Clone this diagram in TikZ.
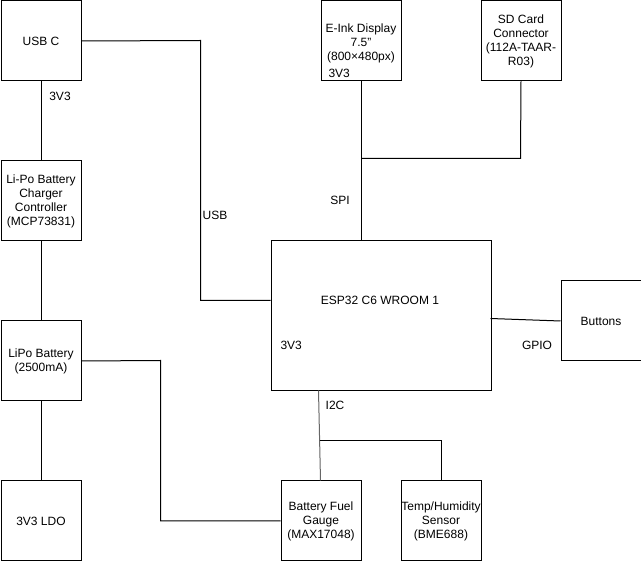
\documentclass[tikz,border=0pt]{standalone}
\usepackage{fontspec}
\setmainfont{Liberation Sans}
\begin{document}
\begin{tikzpicture}[x=1pt,y=-1pt,line width=1pt,
  font=\fontsize{12}{14}\selectfont,
  blk/.style={draw,minimum width=80pt,minimum height=80pt,align=center,inner sep=0pt,anchor=north west},
  lbl/.style={inner sep=0pt},
  wire/.style={draw}]
\useasboundingbox (0,0) rectangle (641,561);
\node[blk] (usb) at (0.5,0.5) {USB C};
\node[blk] (eink) at (320.5,0.5) {};
\node[lbl,align=center] (einkt) at ([yshift=-2pt]eink.center) {E-Ink Display\\7.5"\\(800×480px)};
\node[blk] (sd) at (480.5,0.5) {SD Card\\Connector\\(112A-TAAR-\\R03)};
\node[blk] (chg) at (0.5,160.5) {Li-Po Battery\\Charger\\Controller\\(MCP73831)};
\node[blk] (bat) at (0.5,320.5) {LiPo Battery\\(2500mA)};
\node[blk] (ldo) at (0.5,480.5) {3V3 LDO};
\node[blk,minimum width=220pt,minimum height=150pt] (esp) at (270.5,240.5) {};
\node[lbl] (espt) at (380,300) {ESP32 C6 WROOM 1};
\node[blk] (btn) at (560.5,280.5) {Buttons};
\node[blk] (fg) at (280.5,480.5) {Battery Fuel\\Gauge\\(MAX17048)};
\node[blk] (th) at (400.5,480.5) {Temp/Humidity\\Sensor\\(BME688)};
% inner labels
\node[lbl,anchor=west] (einkv) at (328,73) {3V3};
\node[lbl,anchor=west] (espv) at (280,345) {3V3};
% connectors
\draw (usb.south) -- (chg.north);
\draw (chg.south) -- (bat.north);
\draw (bat.south) -- (ldo.south |- ldo.north);
\coordinate (u1) at (200.5,40.5);
\coordinate (u2) at (200.5,300.5);
\draw (usb.east) -- (u1) -- (u2) -- (u2 -| esp.west);
\draw (eink.south) -- (eink.south |- esp.north);
\coordinate (s1) at (520.5,158.5);
\draw (sd.south) -- (s1) -- (s1 -| eink.south);
\coordinate (g1) at (490.5,318.5);
\draw (g1) -- (btn.west);
\coordinate (i0) at (318.5,390.5);
\coordinate (i1) at (320.5,480.5);
\coordinate (i2) at (319.5,440.5);
\draw[gray!80!black] (i0) -- (i1);
\draw (i2) -- (i2 -| th.north) -- (th.north);
\coordinate (b1) at (160.5,360.5);
\draw (bat.east) -- (b1) -- (b1 |- fg.west) -- (fg.west);
% connector labels
\node[lbl] (l3v3) at (60,96) {3V3};
\node[lbl] (lusb) at (215,215) {USB};
\node[lbl] (lspi) at (340,200) {SPI};
\node[lbl] (lgpio) at (537,345) {GPIO};
\node[lbl] (li2c) at (335,405) {I2C};
\end{tikzpicture}
\end{document}
